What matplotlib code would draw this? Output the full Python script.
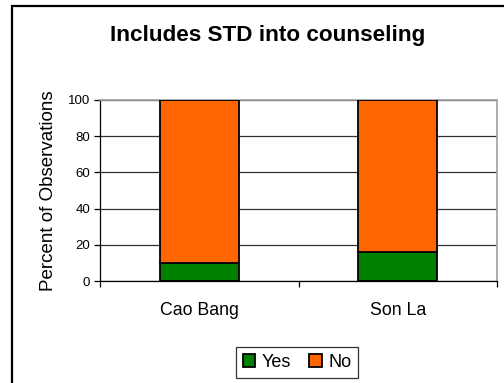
import matplotlib
matplotlib.use("Agg")
import matplotlib.pyplot as plt
from matplotlib.patches import Rectangle

categories = ["Cao Bang", "Son La"]
yes_pct = [10, 16]
no_pct = [90, 84]
series_labels = ["Yes", "No"]
yticks = [0, 20, 40, 60, 80, 100]

plt.rcParams["font.family"] = ["Liberation Sans", "DejaVu Sans"]

fig = plt.figure(figsize=(5.04, 3.83), dpi=100)
W, H = 504, 383

# outer chart frame (open towards right and bottom edges)
fig.patches.append(Rectangle((12 / W, -0.1), 1.2, 1.1 - 6 / H,
                             transform=fig.transFigure, fill=False,
                             edgecolor="black", linewidth=1.6, zorder=0))

ax = fig.add_axes([100 / W, 1 - 281 / H, 397 / W, 181 / H])
x = list(range(len(categories)))
bar_w = 0.4
ax.bar(x, yes_pct, width=bar_w, color="#008000", edgecolor="black",
       linewidth=1.3, label=series_labels[0], zorder=3)
ax.bar(x, no_pct, width=bar_w, bottom=yes_pct, color="#FF6600",
       edgecolor="black", linewidth=1.3, label=series_labels[1], zorder=3)

ax.set_xlim(-0.5, len(categories) - 0.5)
ax.set_ylim(0, 100)
ax.set_yticks(yticks)
ax.yaxis.grid(True, color="#303030", linewidth=0.9, zorder=1)
ax.set_axisbelow(True)

ax.set_xticks(x)
ax.set_xticklabels(categories, fontsize=12.8)
ax.set_xticks([i - 0.5 for i in range(len(categories) + 1)], minor=True)
ax.tick_params(axis="x", which="major", length=0, pad=15)
ax.tick_params(axis="x", which="minor", length=4, width=0.9, direction="out")
ax.tick_params(axis="y", length=4, width=0.9, labelsize=9.5, pad=3)

for side in ("top", "right"):
    ax.spines[side].set_color("#a0a0a0")
    ax.spines[side].set_linewidth(1.2)
for side in ("left", "bottom"):
    ax.spines[side].set_color("black")
    ax.spines[side].set_linewidth(0.9)

fig.text(267.5 / W, 1 - 35 / H, "Includes STD into counseling",
         fontsize=16.2, fontweight="bold", ha="center", va="center")
fig.text(49 / W, 1 - 191 / H, "Percent of Observations", rotation=90,
         fontsize=13.5, ha="center", va="center")

leg = fig.legend(loc="center", bbox_to_anchor=(297 / W, 1 - 362.5 / H),
                 ncol=2, frameon=True, fancybox=False, fontsize=13,
                 handlelength=0.7, handleheight=0.7, handletextpad=0.35,
                 columnspacing=1.0, borderpad=0.4, borderaxespad=0)
leg.get_frame().set_edgecolor("black")
leg.get_frame().set_linewidth(0.9)

fig.savefig("out.png", dpi=100)
